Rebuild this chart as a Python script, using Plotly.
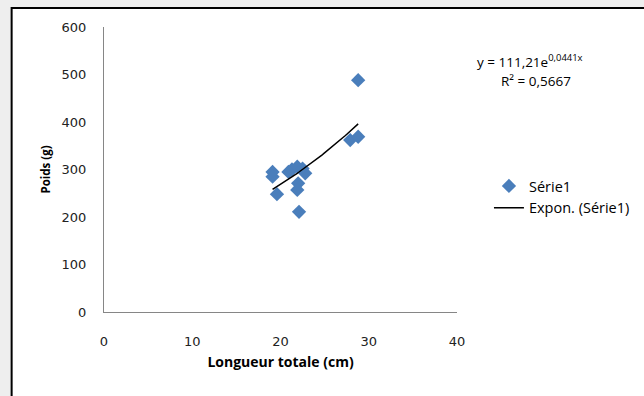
import numpy as np
import plotly.graph_objects as go

# Measurements: total length (cm) and weight (g)
longueur = [19.1, 19.1, 19.6, 20.9, 21.3, 21.9, 22.5, 22.8, 22.0, 21.9, 22.1, 27.9, 28.8, 28.8]
poids = [295, 285, 248, 295, 300, 306, 302, 292, 271, 257, 211, 362, 369, 488]

# Exponential trend coefficients y = a * exp(b * x)
coef_a = 111.21
coef_b = 0.0441
r2 = 0.5667

x_ticks = [0, 10, 20, 30, 40]
y_ticks = [0, 100, 200, 300, 400, 500, 600]

xt = np.linspace(min(longueur), max(longueur), 60)
yt = coef_a * np.exp(coef_b * xt)

W, H = 644, 396
L, R, T, B = 103.5, 187, 27, 84
pw, ph = W - L - R, H - T - B

def px(xp):
    return (xp - L) / pw

def py(yp):
    return (H - B - yp) / ph

fig = go.Figure()
fig.add_trace(go.Scatter(
    x=longueur, y=poids, mode="markers", name="Série1",
    marker=dict(symbol="diamond", size=11, color="#4a7ebb", line=dict(width=0)),
))
fig.add_trace(go.Scatter(
    x=xt, y=yt, mode="lines", name="Expon. (Série1)",
    line=dict(color="black", width=1.5),
))

fig.update_layout(
    width=W, height=H,
    margin=dict(l=L, r=R, t=T, b=B, pad=0, autoexpand=False),
    paper_bgcolor="#eeeeee",
    plot_bgcolor="rgba(0,0,0,0)",
    font=dict(family="Open Sans, sans-serif", size=13, color="black"),
    showlegend=True,
    legend=dict(
        x=px(489), y=py(170), xanchor="left", yanchor="top",
        bgcolor="rgba(0,0,0,0)", font=dict(size=14.5, family="Open Sans"),
        tracegroupgap=0, itemwidth=30,
    ),
    xaxis=dict(
        range=[0, 40], tickvals=x_ticks, ticktext=[str(v) for v in x_ticks],
        showgrid=False, zeroline=False, showline=True, linecolor="#868686", linewidth=1,
        ticks="outside", ticklen=17, tickcolor="rgba(0,0,0,0)",
        tickfont=dict(family="DejaVu Sans", size=13, color="#222222"),
        title=dict(text="<b>Longueur totale (cm)</b>", standoff=9,
                   font=dict(family="Open Sans", size=14)),
        fixedrange=True,
    ),
    yaxis=dict(
        range=[0, 600], tickvals=y_ticks, ticktext=[str(v) for v in y_ticks],
        showgrid=False, zeroline=False, showline=True, linecolor="#868686", linewidth=1,
        ticks="outside", ticklen=14, tickcolor="rgba(0,0,0,0)",
        tickfont=dict(family="DejaVu Sans", size=13, color="#222222"),
        title=dict(text="<b>Poids (g)</b>", standoff=8,
                   font=dict(family="Open Sans", size=11.5)),
        fixedrange=True,
    ),
    shapes=[
        dict(type="rect", xref="paper", yref="paper", layer="below",
             x0=px(11), x1=px(660), y0=py(405), y1=py(8),
             fillcolor="white", line=dict(color="black", width=2)),
    ],
    annotations=[
        dict(xref="paper", yref="paper", x=px(530), y=py(61),
             text=f"y = {str(coef_a).replace('.', ',')}e<sup>{str(coef_b).replace('.', ',')}x</sup>",
             showarrow=False, xanchor="center", yanchor="middle",
             font=dict(family="Open Sans", size=13.5)),
        dict(xref="paper", yref="paper", x=px(536), y=py(81),
             text=f"R² = {str(r2).replace('.', ',')}",
             showarrow=False, xanchor="center", yanchor="middle",
             font=dict(family="Open Sans", size=13.5)),
    ],
)

fig.write_html("out.html", config={"displayModeBar": False})
